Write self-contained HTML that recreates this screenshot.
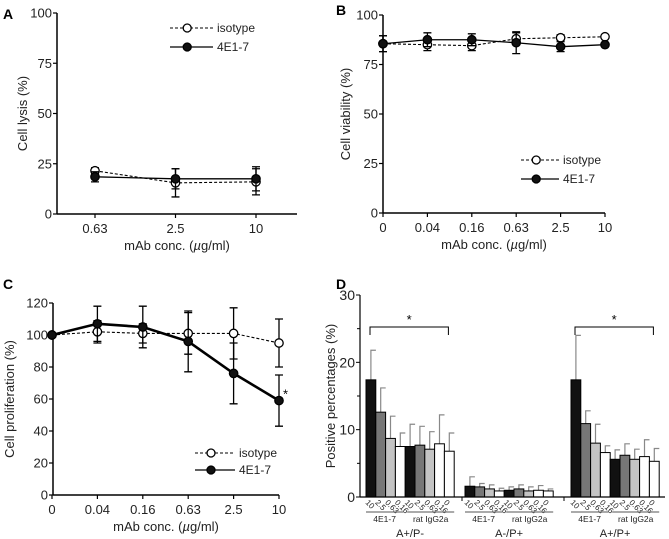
<!DOCTYPE html>
<html><head><meta charset="utf-8"><style>
body{margin:0;background:#fff;}
svg{display:block;font-family:"Liberation Sans",Arial,sans-serif;}
</style></head><body>
<svg id="fig" width="669" height="539" viewBox="0 0 669 539"></svg>
<script>
// Panel A data
const aCats=["0.63","2.5","10"];
const aIso=[21.5,15.5,16];
const aIsoErr=[1.5,7,6.5];
const aMab=[18.5,17.5,17.5];
const aMabErr=[2.5,5,6];
const aTicks=[0,25,50,75,100];
// Panel B data
const bCats=["0","0.04","0.16","0.63","2.5","10"];
const bIso=[85.5,85,84.5,88,88.5,89];
const bIsoErr=[4,3,2.5,3,1.5,1];
const bMab=[85.5,87.5,87.5,86,84,85];
const bMabErr=[4,3.5,3,5.5,2.5,1];
const bTicks=[0,25,50,75,100];
// Panel C data
const cCats=["0","0.04","0.16","0.63","2.5","10"];
const cIso=[100,102,101,101,101,95];
const cIsoErr=[1,7,6,13,16,15];
const cMab=[100,107,105,96,76,59];
const cMabErr=[1,11,13,19,19,16];
const cTicks=[0,20,40,60,80,100,120];
// Panel D data
const dGroups=["A+/P-","A-/P+","A+/P+"];
const dBarLabels=["10","2.5","0.63","0.16","10","2.5","0.63","0.16","0"];
const dVals=[[17.4,12.6,8.7,7.5,7.5,7.7,7.1,7.9,6.8],[1.6,1.5,1.2,0.9,1.0,1.2,0.9,1.0,0.9],[17.4,10.9,8.0,6.6,5.6,6.2,5.6,6.0,5.3]];
const dTops=[[21.8,16.2,12,9.5,10.8,10.5,9.7,12.2,9.5],[3.0,2.0,1.8,1.3,1.5,1.8,1.5,1.7,1.2],[24,12.8,10.8,7.6,7.0,7.9,7.1,8.5,7.2]];
const dTicks=[0,10,20,30];

const NS="http://www.w3.org/2000/svg";
const svg=document.getElementById('fig');
function el(tag,attrs,parent,txt){const e=document.createElementNS(NS,tag);for(const k in attrs)e.setAttribute(k,attrs[k]);if(txt!==undefined)e.textContent=txt;(parent||svg).appendChild(e);return e;}
function grp(name){const g=el('g',{});return g;}

function linePanel(o){
  const g=grp(o.name);
  const ys=v=>o.y0+(v-o.vmin)/(o.vmax-o.vmin)*(o.y1-o.y0);
  const xs=i=>o.xFirst+i*o.xStep;
  const ya=el('line',{x1:o.ax,y1:o.y0,x2:o.ax,y2:o.y1+0,stroke:'#000','stroke-width':1.5},g);
  
  const xa=el('line',{x1:o.ax,y1:o.y0,x2:o.axEnd,y2:o.y0,stroke:'#000','stroke-width':1.5},g);
  
  o.ticks.forEach(t=>{const y=ys(t);el('line',{x1:o.ax-4,y1:y,x2:o.ax,y2:y,stroke:'#000','stroke-width':1.2},g);
    const tl=el('text',{x:o.ax-5,y:y+4.5,'text-anchor':'end','font-size':13,fill:'#222'},g,String(t));
    });
  o.cats.forEach((c,i)=>{const x=xs(i);el('line',{x1:x,y1:o.y0,x2:x,y2:o.y0+4,stroke:'#000','stroke-width':1.2},g);
    const tl=el('text',{x:x,y:o.y0+19,'text-anchor':'middle','font-size':13,fill:'#222'},g,c);
    });
  const xt=el('text',{x:(o.ax+o.axEnd)/2,y:o.y0+36,'text-anchor':'middle','font-size':13,fill:'#222'},g);
  xt.innerHTML='mAb conc. (<tspan font-style="italic">µ</tspan>g/ml)';
  
  const yt=el('text',{x:o.ylx,y:(o.y0+o.y1)/2,'text-anchor':'middle','font-size':13,fill:'#222',transform:`rotate(-90 ${o.ylx} ${(o.y0+o.y1)/2})`},g,o.ylabel);
  
  const pl=el('text',{x:o.lx,y:o.ly,'font-size':14,'font-weight':'bold'},g,o.letter);
  
  function series(vals,errs,filled,sw,name){
    const sg=el('g',{},g);
    vals.forEach((v,i)=>{const x=xs(i);const a=ys(v+errs[i]),b=ys(v-errs[i]);
      const eb=el('path',{d:`M${x},${a}V${b}M${x-4},${a}H${x+4}M${x-4},${b}H${x+4}`,stroke:'#000','stroke-width':1.3,fill:'none'},sg);
      });
    const p=el('polyline',{points:vals.map((v,i)=>xs(i)+','+ys(v)).join(' '),fill:'none',stroke:'#000','stroke-width':sw,'stroke-dasharray':filled?'none':'3,2'},sg);
    
    vals.forEach((v,i)=>{const c=el('circle',{cx:xs(i),cy:ys(v),r:4.2,fill:filled?'#111':'#fff',stroke:'#000','stroke-width':1.3},sg);
      });
  }
  series(o.iso,o.isoErr,false,1.1,'isotype-series');
  series(o.mab,o.mabErr,true,o.mabW,'4e1-7-series');
  [[false,'isotype',o.legY],[true,'4E1-7',o.legY+o.legGap]].forEach(([f,t,y])=>{
    const lg=el('g',{},g);
    el('line',{x1:o.legX,y1:y,x2:o.legX+o.legW,y2:y,stroke:'#000','stroke-width':f?1.3:1,'stroke-dasharray':f?'none':'3,2'},lg);
    el('circle',{cx:o.legX+o.legW*0.4,cy:y,r:4,fill:f?'#111':'#fff',stroke:'#000','stroke-width':1.3},lg);
    el('text',{x:o.legX+o.legW+4,y:y+4,'font-size':12,fill:'#222'},lg,t);
  });
  return {g,xs,ys};
}
linePanel({name:'panel-a-chart',letter:'A',lx:3,ly:19,ax:57,axEnd:297,y0:214,y1:13,vmin:0,vmax:100,xFirst:95,xStep:80.5,
  cats:aCats,iso:aIso,isoErr:aIsoErr,mab:aMab,mabErr:aMabErr,ticks:aTicks,ylabel:'Cell lysis (%)',ylx:27,mabW:1.3,
  legX:170,legW:43,legY:28,legGap:19});
linePanel({name:'panel-b-chart',letter:'B',lx:336,ly:15,ax:383,axEnd:605,y0:213,y1:15,vmin:0,vmax:100,xFirst:383,xStep:44.4,
  cats:bCats,iso:bIso,isoErr:bIsoErr,mab:bMab,mabErr:bMabErr,ticks:bTicks,ylabel:'Cell viability (%)',ylx:350,mabW:1.3,
  legX:521,legW:38,legY:160,legGap:19});
const pc=linePanel({name:'panel-c-chart',letter:'C',lx:3,ly:289,ax:53,axEnd:279,y0:495,y1:303,vmin:0,vmax:120,xFirst:52,xStep:45.4,
  cats:cCats,iso:cIso,isoErr:cIsoErr,mab:cMab,mabErr:cMabErr,ticks:cTicks,ylabel:'Cell proliferation (%)',ylx:14,mabW:2.6,
  legX:195,legW:40,legY:453,legGap:17});
const star=el('text',{x:pc.xs(5)+4,y:pc.ys(cMab[5])-2,'font-size':13},pc.g,'*');


// Panel D
(function(){
  const g=grp('panel-d-chart');
  const ax=360,axEnd=665,y0=497,y1=295,vmax=30;
  const ys=v=>y0-v/vmax*(y0-y1);
  const groupStart=[366,465,571],bw=9.8;
  const bx=(gi,i)=>groupStart[gi]+i*bw;
  const fills=['#111','#777','#c4c4c4','#fff','#111','#777','#c4c4c4','#fff','#fff'];
  const pl=el('text',{x:336,y:289,'font-size':14,'font-weight':'bold'},g,'D');
  
  const yt=el('text',{x:335,y:(y0+y1)/2,'text-anchor':'middle','font-size':13,fill:'#222',transform:`rotate(-90 335 ${(y0+y1)/2})`},g,'Positive percentages (%)');
  
  dTicks.forEach(t=>{const y=ys(t);el('line',{x1:ax-4,y1:y,x2:ax,y2:y,stroke:'#000'},g);
    const tl=el('text',{x:ax-5,y:y+5,'text-anchor':'end','font-size':14,fill:'#222'},g,String(t));
    
    if(t<30){const m=ys(t+5);el('line',{x1:ax-3,y1:m,x2:ax,y2:m,stroke:'#000'},g);}});
  dVals.forEach((vals,gi)=>{
    vals.forEach((v,i)=>{const x=bx(gi,i);
      const e=el('path',{d:`M${x+bw/2},${ys(v)}V${ys(dTops[gi][i])}H${x+bw/2+5}`,stroke:'#888','stroke-width':1.2,fill:'none'},g);
      
      const r=el('rect',{x:x,y:ys(v),width:bw,height:y0-ys(v),fill:fills[i],stroke:'#000','stroke-width':1},g);
      
      const tx=x-1,ty=y0+6;
      const tl=el('text',{x:tx,y:ty,'font-size':8,'text-anchor':'start',fill:'#222',transform:`rotate(45 ${tx} ${ty})`},g,dBarLabels[i]);
      
    });
    const s=groupStart[gi];
    el('line',{x1:s,y1:512,x2:s+bw*3.8,y2:512,stroke:'#777','stroke-width':1.3},g);
    el('line',{x1:s+bw*4.2,y1:512,x2:s+bw*9,y2:512,stroke:'#777','stroke-width':1.3},g);
    el('text',{x:s+bw*1.9,y:522,'text-anchor':'middle','font-size':8.5,fill:'#222'},g,'4E1-7');
    el('text',{x:s+bw*6.6,y:522,'text-anchor':'middle','font-size':8.5,fill:'#222'},g,'rat IgG2a');
    const gl=el('text',{x:s+bw*4.5,y:537,'text-anchor':'middle','font-size':11,fill:'#222'},g,dGroups[gi]);
    
  });
  el('line',{x1:ax,y1:y0,x2:ax,y2:y1,stroke:'#000','stroke-width':1.2},g);
  el('line',{x1:ax,y1:y0,x2:axEnd,y2:y0,stroke:'#000','stroke-width':1.2},g);
  [462,564].forEach(x=>el('line',{x1:x,y1:y0,x2:x,y2:y0+4,stroke:'#000'},g));
  [0,2].forEach(gi=>{const a=bx(gi,0)+4,b=bx(gi,8)+4,y=327;
    const br=el('path',{d:`M${a},${y+8}V${y}H${b}V${y+8}`,stroke:'#000','stroke-width':1,fill:'none'},g);
    
    el('text',{x:(a+b)/2,y:y-3,'text-anchor':'middle','font-size':13},g,'*');});
})();
</script>
</body></html>
